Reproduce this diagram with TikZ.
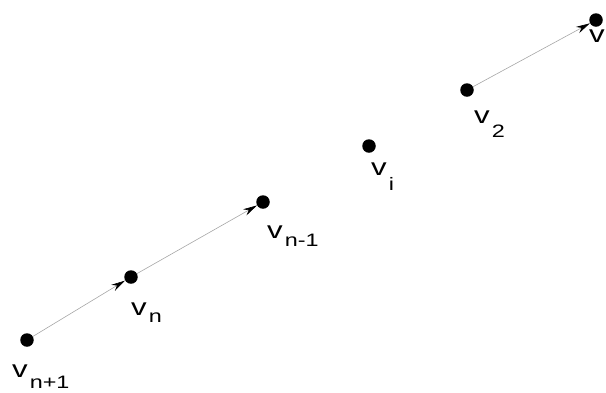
\documentclass[tikz,border=0pt]{standalone}
\usepackage{fontspec}
\setmainfont{Liberation Sans}
\usetikzlibrary{arrows.meta}
% label v with a lowered index
\newcommand{\vlab}[2][9pt]{\scalebox{1.3}[1]{v}\hspace{2pt}\raisebox{-#1}{\fontsize{18}{18}\selectfont\scalebox{1.3}[1]{#2}}}
\begin{document}
\begin{tikzpicture}[
    x=1pt, y=-1pt,
    dot/.style={circle, fill=black, inner sep=0pt, minimum size=13.5pt},
    lab/.style={anchor=base west, inner sep=0pt, font=\fontsize{24}{26}\selectfont},
    arr/.style={-{Stealth[length=14pt, width=7pt, black]}, gray!70, line width=0.6pt},
  ]
  \useasboundingbox (0,0) rectangle (606,392);
  % --- vertices
  \node[dot] (v1)  at (596,20)  {};
  \node[dot] (v2)  at (467,90)  {};
  \node[dot] (vi)  at (369,146) {};
  \node[dot] (vm)  at (263,202) {};
  \node[dot] (vn)  at (131,277) {};
  \node[dot] (vp)  at (27,340)  {};
  % --- labels
  \node[lab] (l1) at (589,42)  {\vlab{1}};
  \node[lab] (l2) at (474,123) {\vlab[14pt]{2}};
  \node[lab] (li) at (371,175) {\vlab[15pt]{i}};
  \node[lab] (lm) at (267,238) {\vlab[8pt]{n-1}};
  \node[lab] (ln) at (131,315) {\vlab[7pt]{n}};
  \node[lab] (lp) at (12,377)  {\vlab[11pt]{n+1}};
  % --- edges
  \draw[arr] (vp) -- (vn);
  \draw[arr] (vn) -- (vm);
  \draw[arr] (v2) -- (v1);
\end{tikzpicture}
\end{document}
